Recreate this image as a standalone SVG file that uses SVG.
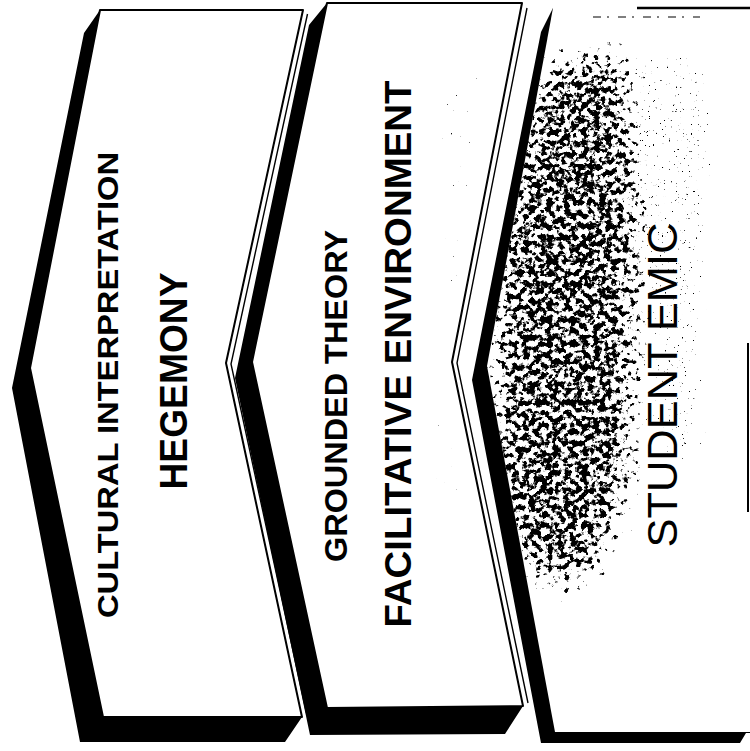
<svg xmlns="http://www.w3.org/2000/svg" width="750" height="751" viewBox="0 0 750 751">
  <style>
    .sil { fill: #000; stroke: none; }
    .face { fill: #fff; stroke: #000; stroke-width: 2; stroke-linejoin: round; }
    .face3 { fill: #fff; stroke: none; }
    .edge2 { fill: none; stroke: #000; stroke-width: 1.4; }
    .line { fill: none; stroke: #000; }
    .lb { font-family: "Liberation Sans", Arial, Helvetica, sans-serif; font-weight: bold; fill: #000; text-anchor: middle; }
    .lr { font-family: "Liberation Sans", Arial, Helvetica, sans-serif; font-weight: normal; fill: #000; text-anchor: middle; }
  </style>
  <defs>
    <filter id="stipple" filterUnits="userSpaceOnUse" x="400" y="0" width="350" height="751" color-interpolation-filters="sRGB">
      <feGaussianBlur in="SourceGraphic" stdDeviation="22" result="d"/>
      <feTurbulence type="fractalNoise" baseFrequency="0.17" numOctaves="3" seed="11" result="t"/>
      <feColorMatrix in="t" type="matrix" values="0 0 0 0 0  0 0 0 0 0  0 0 0 0 0  1 0 0 0 0" result="n"/>
      <feComposite in="d" in2="n" operator="arithmetic" k1="0" k2="10" k3="10" k4="-11"/>
    </filter>
    <filter id="specks" filterUnits="userSpaceOnUse" x="0" y="0" width="750" height="751" color-interpolation-filters="sRGB">
      <feGaussianBlur in="SourceGraphic" stdDeviation="12" result="d"/>
      <feTurbulence type="fractalNoise" baseFrequency="0.45" numOctaves="2" seed="4" result="t"/>
      <feColorMatrix in="t" type="matrix" values="0 0 0 0 0  0 0 0 0 0  0 0 0 0 0  1 0 0 0 0" result="n"/>
      <feComposite in="d" in2="n" operator="arithmetic" k1="0" k2="14" k3="14" k4="-18"/>
    </filter>
    <clipPath id="c3">
      <polygon points="553,8 760,8 760,732 555,732 487,366"/>
    </clipPath>
  </defs>
  <rect width="750" height="751" fill="#fff"/>

  <g id="chevron-cultural">
    <polygon class="sil" points="100,10 303,10 226,363 302,717 285,742 80,742 12,388 84,33"/>
    <polygon class="face" points="100,10 303,10 226,363 302,717 103,717 30,368"/>
    <polyline class="edge2" points="307.5,14 231,364 306.5,713"/>
    <text class="lb" transform="translate(118,385) rotate(-90)" font-size="29" textLength="466" lengthAdjust="spacingAndGlyphs">CULTURAL INTERPRETATION</text>
    <text class="lb" transform="translate(187,381) rotate(-90)" font-size="38" textLength="217" lengthAdjust="spacingAndGlyphs">HEGEMONY</text>
  </g>

  <g id="chevron-grounded">
    <polygon class="sil" points="327,3 522,3 452,362 523,706 505,734 310,735 235,378 309,25"/>
    <polygon class="face" points="327,3 522,3 452,362 523,706 327,708 252,362"/>
    <polyline class="edge2" points="527,8 457,363 528,703"/>
    <g filter="url(#specks)">
      <polygon points="420,60 500,60 468,360 490,510 425,510 432,300" fill="#000" fill-opacity="0.5"/>
    </g>
    <text class="lb" transform="translate(347,396) rotate(-90)" font-size="32" textLength="332" lengthAdjust="spacingAndGlyphs">GROUNDED THEORY</text>
    <text class="lb" transform="translate(411,354) rotate(-90)" font-size="37" textLength="547" lengthAdjust="spacingAndGlyphs">FACILITATIVE ENVIRONMENT</text>
  </g>

  <g id="chevron-student">
    <polygon class="sil" points="553,8 760,8 760,733 746,733 740,743 541,743 472,380 541,32"/>
    <polygon class="face3" points="553,8 760,8 760,732 555,732 487,366"/>
    <g clip-path="url(#c3)">
      <g filter="url(#stipple)">
        <polygon points="545,45 640,40 655,200 645,480 610,580 540,610 482,520 480,250 515,100" fill="#000" fill-opacity="0.66"/>
      </g>
      <g filter="url(#specks)">
        <polygon points="610,40 725,40 715,470 645,470" fill="#000" fill-opacity="0.56"/>
      </g>
    </g>
    <line class="line" x1="637" y1="8" x2="750" y2="8" stroke-width="2.5"/>
    <line class="line" x1="593" y1="17" x2="700" y2="17" stroke-width="1.2" stroke-dasharray="8,6,2,9"/>
    <line class="line" x1="748" y1="343" x2="748" y2="512" stroke-width="2"/>
    <text class="lr" transform="translate(677,385) rotate(-90)" font-size="43" textLength="325" lengthAdjust="spacingAndGlyphs">STUDENT EMIC</text>
  </g>
</svg>
